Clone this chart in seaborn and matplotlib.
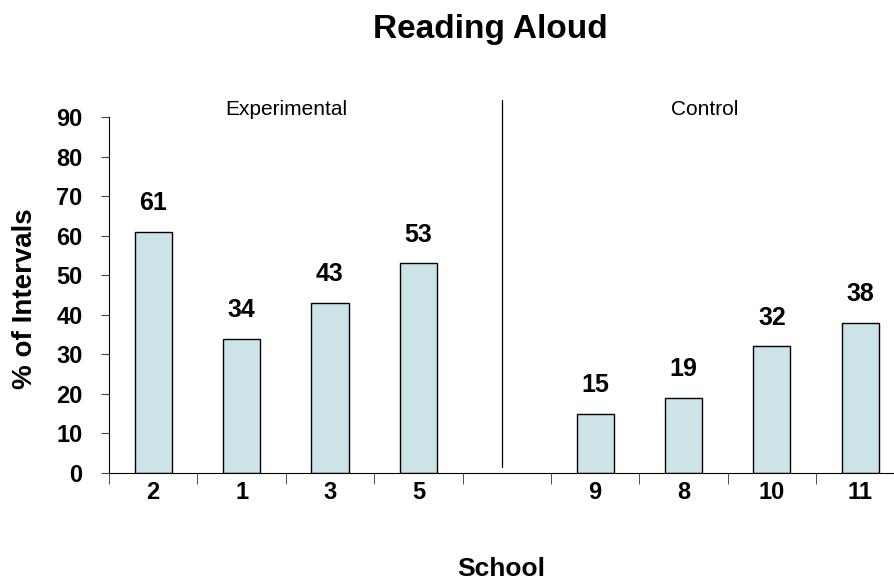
import pandas as pd
import seaborn as sb
import matplotlib.pyplot as plt
from matplotlib.ticker import FixedLocator

# datos
schools = ['2', '1', '3', '5', '9', '8', '10', '11']
values = [61, 34, 43, 53, 15, 19, 32, 38]
order = ['2', '1', '3', '5', ' ', '9', '8', '10', '11']   # hueco entre grupos
y_ticks = [0, 10, 20, 30, 40, 50, 60, 70, 80, 90]
groups = ['Experimental', 'Control']

data = pd.DataFrame({'school': schools, 'pct': values})

sb.set_style('ticks')
plt.rcParams['font.family'] = ['Liberation Sans', 'DejaVu Sans']
plt.rcParams['text.color'] = 'black'
plt.rcParams['axes.labelcolor'] = 'black'
plt.rcParams['xtick.color'] = 'black'
plt.rcParams['ytick.color'] = 'black'

fig = plt.figure(figsize=(8.94, 5.85), dpi=100)
ax = fig.add_axes([109 / 894, 1 - 473 / 585, 784 / 894, 356 / 585])

sb.barplot(data=data, x='school', y='pct', order=order, ax=ax,
           color='#cce4e8', saturation=1, width=0.42,
           edgecolor='black', linewidth=1)

# etiquetas de valores
for i, cat in enumerate(order):
    if cat in schools:
        v = values[schools.index(cat)]
        ax.text(i, v + 4.2, str(v), ha='center', va='bottom',
                fontsize=18, fontweight='bold')

ax.set_ylim(0, 90)
ax.set_xlim(-0.5, 8.37)
ax.set_yticks(y_ticks)
ax.tick_params(axis='y', length=6, pad=13, labelsize=17, color='#444444')
ax.tick_params(axis='x', which='major', length=0, pad=6, labelsize=17)
ax.xaxis.set_minor_locator(FixedLocator([k - 0.5 for k in range(9)]))
ax.tick_params(axis='x', which='minor', length=8, direction='out', color='#333333')
for lab in ax.get_xticklabels() + ax.get_yticklabels():
    lab.set_fontweight('bold')

sb.despine(ax=ax)
ax.spines['left'].set_color('black')
ax.spines['bottom'].set_color('black')

# línea divisoria y nombres de grupo
ax.plot([3.95, 3.95], [1.5, 94.3], color='black', linewidth=0.9, clip_on=False)
ax.text(1.51, 91.8, groups[0], ha='center', va='center', fontsize=15)
ax.text(6.24, 91.8, groups[1], ha='center', va='center', fontsize=15)

ax.set_xlabel('School', fontsize=19, fontweight='bold')
ax.xaxis.set_label_coords(0.5, -0.235)
ax.set_ylabel('% of Intervals', fontsize=20, fontweight='bold')
ax.yaxis.set_label_coords(-0.09, 0.49)

fig.text(490 / 894, 1 - 38 / 585, 'Reading Aloud', ha='center', va='baseline',
         fontsize=24, fontweight='bold')

fig.savefig('out.png', dpi=100)
